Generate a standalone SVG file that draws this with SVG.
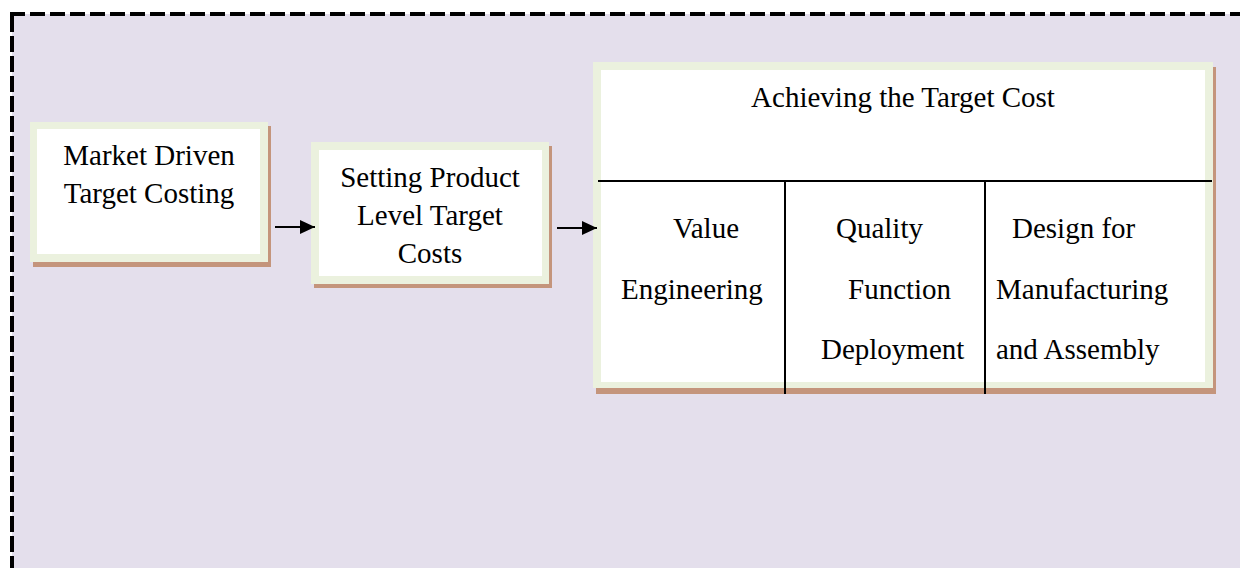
<svg xmlns="http://www.w3.org/2000/svg" width="1240" height="568" viewBox="0 0 1240 568">
<defs>
<style>
.t{font-family:"Liberation Serif","Times New Roman",serif;font-size:29px;fill:#000}
.c{text-anchor:middle}
.shadow{fill:#C4957C}
.outer{fill:#EBF1DE}
.inner{fill:#FFFFFF}
.ln{stroke:#000;stroke-width:2;fill:none}
</style>
<marker id="ah" markerWidth="15" markerHeight="14" refX="15" refY="7" orient="auto" markerUnits="userSpaceOnUse">
<path d="M0,0 L15,7 L0,14 Z" fill="#000"/>
</marker>
</defs>
<rect x="0" y="0" width="1240" height="568" fill="#FFFFFF"/>
<rect x="12" y="14" width="1240" height="560" fill="#E4DFEC"/>
<line x1="10" y1="14" x2="1240" y2="14" stroke="#000" stroke-width="4" stroke-dasharray="15,5"/>
<line x1="12" y1="16" x2="12" y2="568" stroke="#000" stroke-width="4" stroke-dasharray="16,4"/>

<g id="node-market">
<rect class="shadow" x="33" y="126" width="238" height="141"/>
<rect class="outer" x="30" y="122" width="238" height="140"/>
<rect class="inner" x="37" y="129" width="223" height="125"/>
<text class="t c" x="149" y="165">Market Driven</text>
<text class="t c" x="149" y="203">Target Costing</text>
</g>

<g id="node-setting">
<rect class="shadow" x="314" y="146" width="238" height="142"/>
<rect class="outer" x="311" y="142" width="238" height="142"/>
<rect class="inner" x="319" y="150" width="223" height="126"/>
<text class="t c" x="430" y="187">Setting Product</text>
<text class="t c" x="430" y="225">Level Target</text>
<text class="t c" x="430" y="263">Costs</text>
</g>

<g id="node-achieving">
<rect class="shadow" x="596" y="67" width="620" height="327"/>
<rect class="outer" x="593" y="62" width="620" height="326"/>
<rect class="inner" x="601" y="70" width="604" height="312"/>
<text class="t c" x="903" y="107">Achieving the Target Cost</text>
<line class="ln" x1="598" y1="181" x2="1212" y2="181"/>
<line class="ln" x1="785" y1="181" x2="785" y2="394"/>
<line class="ln" x1="985" y1="181" x2="985" y2="394"/>
<text class="t" x="673" y="238">Value</text>
<text class="t" x="621" y="299">Engineering</text>
<text class="t" x="836" y="238">Quality</text>
<text class="t" x="848" y="299">Function</text>
<text class="t" x="821" y="359">Deployment</text>
<text class="t" x="1012" y="238">Design for</text>
<text class="t" x="996" y="299">Manufacturing</text>
<text class="t" x="996" y="359">and Assembly</text>
</g>

<g id="connectors">
<line class="ln" x1="275" y1="227" x2="315" y2="227" marker-end="url(#ah)"/>
<line class="ln" x1="557" y1="228" x2="597" y2="228" marker-end="url(#ah)"/>
</g>
</svg>
